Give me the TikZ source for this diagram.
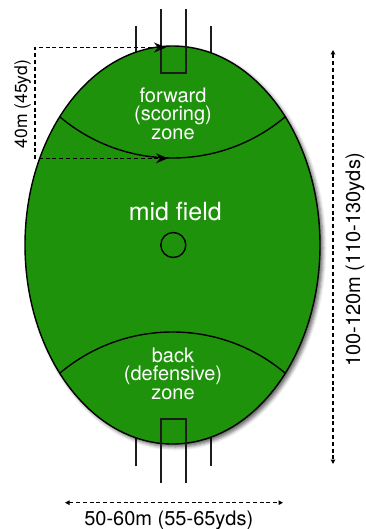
\documentclass[tikz,border=0pt]{standalone}
\usepackage{fontspec}
\setmainfont{TeX Gyre Heros}
\usetikzlibrary{arrows.meta,shapes.geometric,shadows.blur}
\definecolor{turf}{RGB}{31,146,12}
\definecolor{postink}{RGB}{28,28,28}
\begin{document}
\begin{tikzpicture}[x=1pt,y=-1pt,
  post/.style={draw=postink,line width=2.2pt,line join=miter},
  zoneline/.style={draw=black,line width=1.4pt},
  dimline/.style={draw=black,line width=1.4pt,dash pattern=on 4pt off 2.8pt},
  dimtip/.style={{Triangle[length=4.5pt,width=4.5pt]}-{Triangle[length=4.5pt,width=4.5pt]}},
  bigtip/.style={{Stealth[length=12pt,width=10pt]}-{Stealth[length=12pt,width=10pt]}},
  zonetext/.style={text=white,align=center,font=\fontsize{20}{18.5}\selectfont},
  dimtext/.style={text=black,font=\fontsize{20}{24}\selectfont},
]
\useasboundingbox (0,0) rectangle (365,529);

% goal and behind posts that sit partly under the oval
\coordinate (ptl1) at (136,26);  \coordinate (ptl2) at (136,62);
\coordinate (ptr1) at (211,26);  \coordinate (ptr2) at (211,62);
\coordinate (pbl1) at (136,466); \coordinate (pbl2) at (136,430);
\coordinate (pbr1) at (211,466); \coordinate (pbr2) at (211,430);
\draw[post] (ptl1) -- (ptl2);
\draw[post] (ptr1) -- (ptr2);
\draw[post] (pbl1) -- (pbl2);
\draw[post] (pbr1) -- (pbr2);

% the playing field
\node[ellipse,draw=black,fill=turf,line width=1.4pt,inner sep=0pt,
      minimum width=295pt,minimum height=398pt,
      blur shadow={shadow xshift=3pt,shadow yshift=-3pt,shadow blur radius=3.5pt,shadow opacity=60}]
      (field) at (172.5,245) {};

% zone boundary arcs, kept inside the field
\begin{scope}
  \clip (172.5,245) ellipse [x radius=147.5, y radius=199];
  \draw[zoneline] (172.5,-16.8) circle [radius=174.8];
  \draw[zoneline] (172.5,506.8) circle [radius=174.8];
\end{scope}

% centre circle
\node[circle,draw=black,line width=1.4pt,minimum size=25pt,inner sep=0pt] (centre) at (173.3,245) {};

% goal squares with goal posts
\coordinate (gt1) at (161,9);   \coordinate (gt2) at (161,73);
\coordinate (gt3) at (186,73);  \coordinate (gt4) at (186,9);
\draw[post] (gt1) -- (gt2) -- (gt3) -- (gt4);
\coordinate (gb1) at (161,483); \coordinate (gb2) at (161,419);
\coordinate (gb3) at (186,419); \coordinate (gb4) at (186,483);
\draw[post] (gb1) -- (gb2) -- (gb3) -- (gb4);

% zone labels
\node[zonetext] (fwd) at (173,113.7) {forward\\(scoring)\\zone};
\node[zonetext] (back) at (173,373.5) {back\\(defensive)\\zone};
\node[text=white,font=\fontsize{25}{30}\selectfont,anchor=base] (mid) at (175.3,220) {mid field};

% 40 m forward zone depth
\coordinate (f1) at (166,47.5);  \coordinate (f2) at (35,47.5);
\coordinate (f3) at (35,158.3);  \coordinate (f4) at (168,158.3);
\draw[dimline,bigtip] (f1) -- (f2) -- (f3) -- (f4);
\node[dimtext,font=\fontsize{17.5}{21}\selectfont,rotate=90,anchor=base] (depth) at (27,104) {40m (45yd)};

% overall length
\coordinate (l1) at (333,50);  \coordinate (l2) at (333,464);
\draw[dimline,dimtip] (l1) -- (l2);
\node[dimtext,rotate=90,anchor=base] (length) at (360,260) {100-120m (110-130yds)};

% overall width
\coordinate (w1) at (65,502.7);  \coordinate (w2) at (283,502.7);
\draw[dimline,dimtip] (w1) -- (w2);
\node[dimtext,anchor=base] (width) at (168.8,525) {50-60m (55-65yds)};
\end{tikzpicture}
\end{document}
